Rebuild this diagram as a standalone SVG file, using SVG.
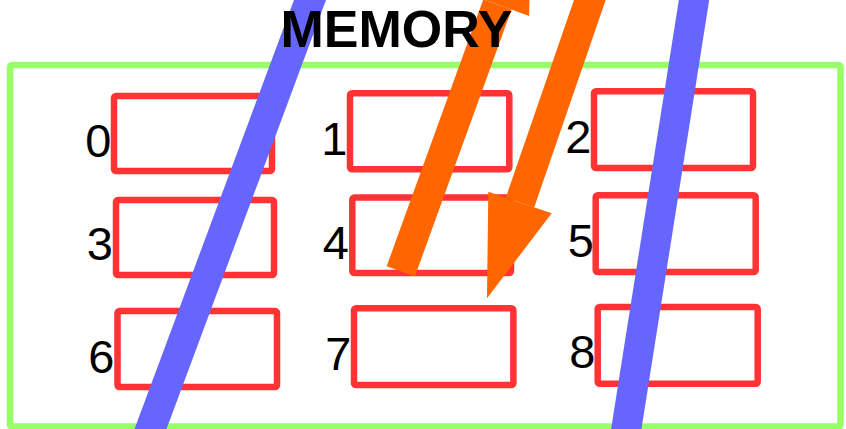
<svg xmlns="http://www.w3.org/2000/svg" width="846" height="429" viewBox="0 0 846 429">
<style>
.box{fill:none;stroke:#ff3333;stroke-width:6.5;stroke-linejoin:round}
.lbl{font-family:"Liberation Sans",Arial,sans-serif;font-size:47px;fill:#000;text-anchor:end}
.blue{stroke:#6666ff;stroke-width:30;fill:none}
.orange{stroke:#ff6600;stroke-width:30;fill:none}
.head{fill:#ff6600}
.title{font-family:"Liberation Sans",Arial,sans-serif;font-size:52px;font-weight:bold;fill:#000;text-anchor:middle}
</style>
<rect width="846" height="429" fill="#ffffff"/>
<g id="memory">
<rect x="10" y="65" width="830.5" height="361.5" rx="2" fill="none" stroke="#99ff66" stroke-width="6.6"/>
</g>
<g id="cell0"><rect class="box" x="114" y="96" width="158" height="75" rx="2"/><text class="lbl" x="111.5" y="156.5">0</text></g>
<g id="cell1"><rect class="box" x="350" y="93.3" width="159.3" height="76" rx="2"/><text class="lbl" x="347.5" y="154.5">1</text></g>
<g id="cell2"><rect class="box" x="594" y="91.3" width="159" height="76.7" rx="2"/><text class="lbl" x="591.5" y="153">2</text></g>
<g id="cell3"><rect class="box" x="116" y="200" width="158" height="75" rx="2"/><text class="lbl" x="113" y="260">3</text></g>
<g id="cell4"><rect class="box" x="352.3" y="197.6" width="158.7" height="75.4" rx="2"/><text class="lbl" x="349" y="258.5">4</text></g>
<g id="cell5"><rect class="box" x="595.7" y="195.3" width="160" height="76.7" rx="2"/><text class="lbl" x="594" y="257.3">5</text></g>
<g id="cell6"><rect class="box" x="117.5" y="311" width="159.5" height="76" rx="2"/><text class="lbl" x="114.5" y="373">6</text></g>
<g id="cell7"><rect class="box" x="354" y="308.3" width="159.4" height="76.7" rx="2"/><text class="lbl" x="351.5" y="369.5">7</text></g>
<g id="cell8"><rect class="box" x="597.7" y="307" width="160" height="76.7" rx="2"/><text class="lbl" x="595.5" y="368.3">8</text></g>
<g id="connectors">
<line class="blue" x1="146.8" y1="439" x2="313.7" y2="-10"/>
<line class="blue" x1="624.7" y1="439" x2="695.6" y2="-10"/>
<line class="orange" x1="400.8" y1="271.3" x2="497.4" y2="4.5"/>
<polygon class="head" points="465.7,-7 529.1,16 531.7,-90.5"/>
<line class="orange" x1="595" y1="-15" x2="520" y2="202.5"/>
<polygon class="head" points="488.3,191.7 551.7,213.3 487,298.3"/>
</g>
<g id="title"><text class="title" x="396.5" y="46.5">MEMORY</text></g>
</svg>
